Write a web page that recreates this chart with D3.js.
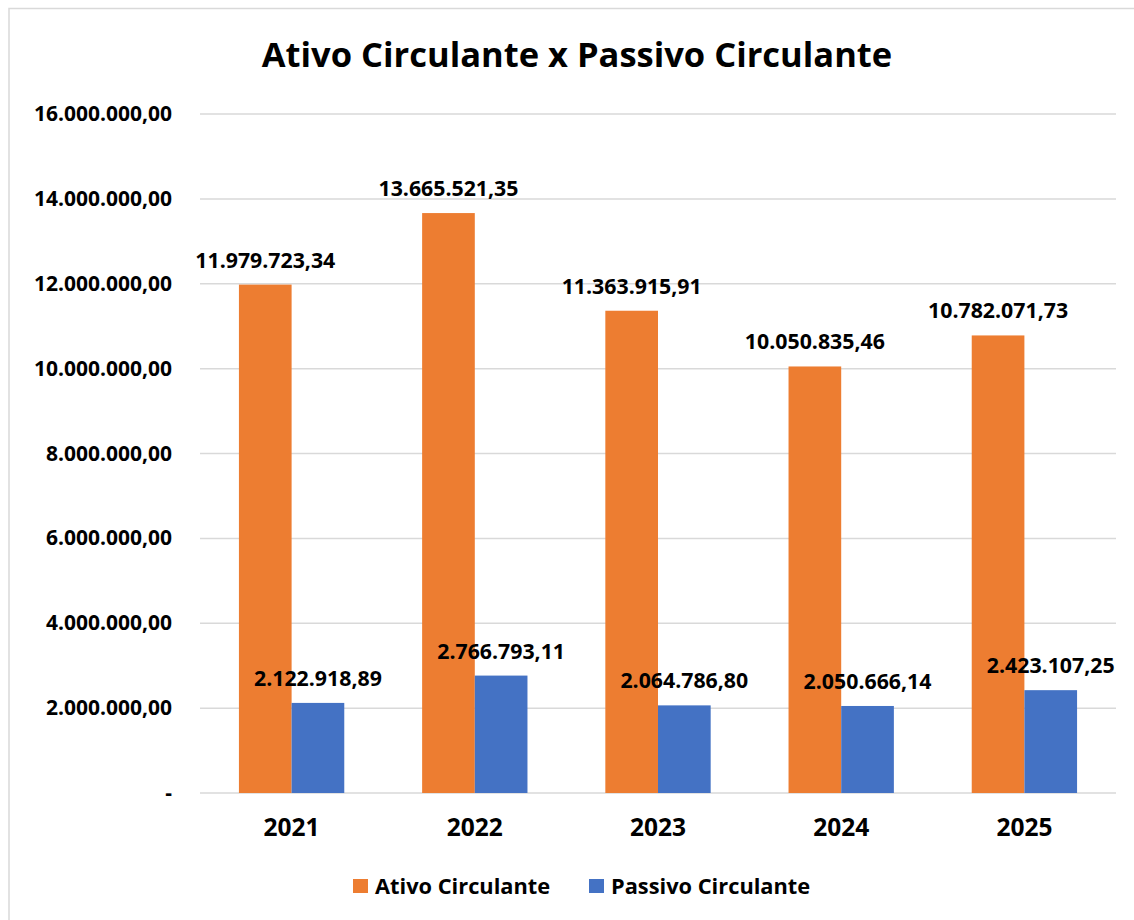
<!DOCTYPE html>
<html><head><meta charset="utf-8">
<script src="https://cdn.jsdelivr.net/npm/d3@7"></script>
<style>html,body{margin:0;padding:0;background:#fff;}svg{display:block;font-family:"Open Sans",Lato,sans-serif;font-weight:bold;}</style>
</head><body>
<svg id="c" width="1134" height="920"></svg>
<script>
const categories = ["2021","2022","2023","2024","2025"];
const seriesNames = ["Ativo Circulante","Passivo Circulante"];
const ativo = [11979723.34,13665521.35,11363915.91,10050835.46,10782071.73];
const passivo = [2122918.89,2766793.11,2064786.80,2050666.14,2423107.25];
const yTicks = [0,2000000,4000000,6000000,8000000,10000000,12000000,14000000,16000000];
const colors = ["#ED7D31","#4472C4"];

const svg = d3.select("#c");
svg.append("rect").attr("x",9).attr("y",8.5).attr("width",1140).attr("height",930)
  .attr("fill","#fff").attr("stroke","#d9d9d9").attr("stroke-width",1.5);

const L=200,R=1116,T=114,B=793;
const fmtVal = v => d3.format(",.2f")(v).replace(/,/g,"#").replace(".",",").replace(/#/g,".");
const fmtTick = v => v===0 ? "-" : fmtVal(v);

const x = d3.scaleBand().domain(categories).range([L,R]).paddingInner(0.425).paddingOuter(0.2125);
const xs = d3.scaleBand().domain(seriesNames).range([0,x.bandwidth()]);
const y = d3.scaleLinear().domain([0,16000000]).range([B,T]);

svg.append("g").selectAll("line").data(yTicks).join("line")
  .attr("x1",L).attr("x2",R).attr("y1",d=>y(d)).attr("y2",d=>y(d))
  .attr("stroke","#d9d9d9").attr("stroke-width",1.5);

svg.append("g").selectAll("text").data(yTicks).join("text")
  .attr("x",172).attr("y",d=>y(d)+7).attr("text-anchor","end")
  .attr("font-size",21).attr("fill","#000").text(fmtTick);

const data = categories.map((c,i)=>({c, vals:[{s:seriesNames[0],v:ativo[i]},{s:seriesNames[1],v:passivo[i]}]}));
const g = svg.append("g").selectAll("g").data(data).join("g").attr("transform",d=>`translate(${x(d.c)},0)`);
g.selectAll("rect").data(d=>d.vals).join("rect")
  .attr("x",d=>xs(d.s)).attr("width",xs.bandwidth())
  .attr("y",d=>y(d.v)).attr("height",d=>B-y(d.v))
  .attr("fill",(d,i)=>colors[i]);
g.selectAll("text").data(d=>d.vals).join("text")
  .attr("x",d=>xs(d.s)+xs.bandwidth()/2).attr("y",d=>y(d.v)-17)
  .attr("text-anchor","middle").attr("font-size",21.3).attr("fill","#000").text(d=>fmtVal(d.v));

svg.append("g").selectAll("text").data(categories).join("text")
  .attr("x",d=>x(d)+x.bandwidth()/2).attr("y",835.5).attr("text-anchor","middle")
  .attr("font-size",24.5).attr("fill","#000").text(d=>d);

svg.append("text").attr("x",577).attr("y",67).attr("text-anchor","middle")
  .attr("font-size",34.5).attr("fill","#000").text("Ativo Circulante x Passivo Circulante");

const leg = [{s:seriesNames[0],x:353,c:colors[0]},{s:seriesNames[1],x:589,c:colors[1]}];
const lg = svg.append("g").selectAll("g").data(leg).join("g").attr("transform",d=>`translate(${d.x},879)`);
lg.append("rect").attr("width",15).attr("height",14).attr("fill",d=>d.c);
lg.append("text").attr("x",22).attr("y",14.5).attr("font-size",21.8).attr("fill","#000").text(d=>d.s);
</script>
</body></html>
